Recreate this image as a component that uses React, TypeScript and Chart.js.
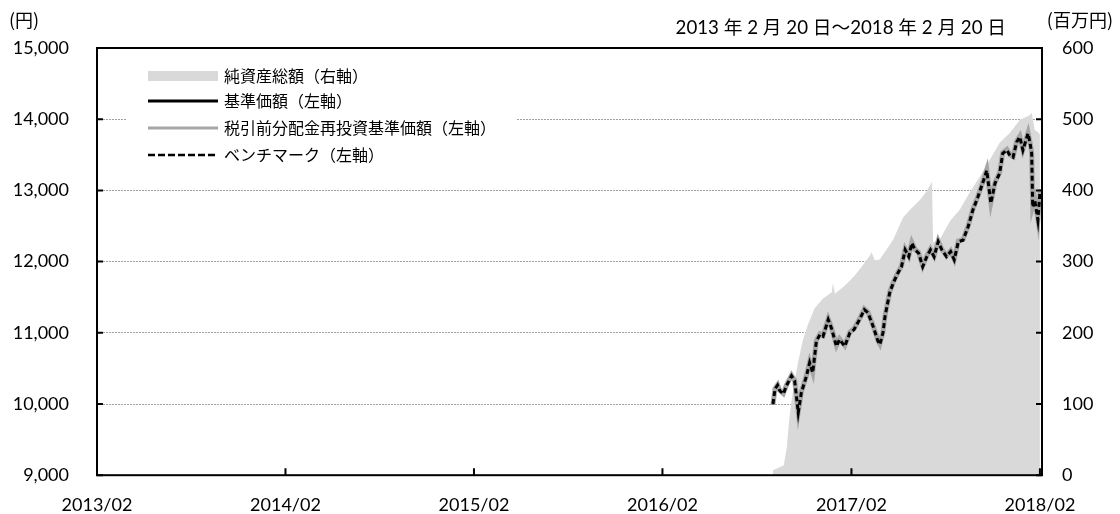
import React, { useEffect, useRef } from "react";
import { Chart, registerables } from "chart.js";

Chart.register(...registerables);

// ---- Axis tick data ----
const xTickDates = ["2013-02-20", "2014-02-20", "2015-02-20", "2016-02-20", "2017-02-20", "2018-02-20"];
const xTickLabels = ["2013/02", "2014/02", "2015/02", "2016/02", "2017/02", "2018/02"];
const xMinDate = "2013-02-20";
const xMaxDate = "2018-02-24";
const leftTicks = [9000, 10000, 11000, 12000, 13000, 14000, 15000];
const rightTicks = [0, 100, 200, 300, 400, 500, 600];

// ---- Series: price lines (円) ----
const lineDates = [
  "2016-09-21", "2016-09-25", "2016-09-30", "2016-10-04", "2016-10-11", "2016-10-17", "2016-10-27",
  "2016-11-02", "2016-11-09", "2016-11-15", "2016-11-25", "2016-12-01", "2016-12-07", "2016-12-14",
  "2016-12-21", "2016-12-27", "2017-01-06", "2017-01-12", "2017-01-22", "2017-01-28", "2017-02-07",
  "2017-02-17", "2017-02-25", "2017-03-08", "2017-03-17", "2017-03-24", "2017-04-03", "2017-04-12",
  "2017-04-16", "2017-04-22", "2017-04-26", "2017-05-05", "2017-05-12", "2017-05-21", "2017-05-28",
  "2017-06-04", "2017-06-11", "2017-06-17", "2017-06-23", "2017-06-30", "2017-07-08", "2017-07-16",
  "2017-07-23", "2017-07-30", "2017-08-07", "2017-08-14", "2017-08-23", "2017-08-31", "2017-09-07",
  "2017-09-15", "2017-09-24", "2017-10-04", "2017-10-13", "2017-10-23", "2017-11-01", "2017-11-09",
  "2017-11-17", "2017-11-25", "2017-12-04", "2017-12-10", "2017-12-18", "2017-12-24", "2017-12-30",
  "2018-01-06", "2018-01-12", "2018-01-18", "2018-01-28", "2018-02-01", "2018-02-04", "2018-02-06",
  "2018-02-10", "2018-02-14", "2018-02-16", "2018-02-19", "2018-02-20",
];
const navValues = [
  9990, 10217, 10270, 10193, 10147, 10263, 10403,
  10333, 9890, 10170, 10403, 10590, 10450, 10893,
  10986, 10962, 11196, 11080, 10823, 10916, 10823,
  11010, 11056, 11200, 11336, 11290, 11100, 10900,
  10845, 11010, 11240, 11570, 11710, 11850, 11940,
  12175, 12080, 12270, 12175, 12130, 11940, 12080,
  12175, 12080, 12290, 12175, 12080, 12150, 12035,
  12290, 12310, 12500, 12730, 12920, 13110, 13290,
  12830, 13110, 13250, 13530, 13575, 13500, 13475,
  13690, 13760, 13575, 13810, 13670, 13530, 12775,
  12875, 12690, 12595, 12875, 13010,
];
const reinvestValues = [
  9990, 10217, 10270, 10193, 10147, 10263, 10403,
  10333, 9890, 10170, 10403, 10590, 10450, 10893,
  10986, 10962, 11196, 11080, 10823, 10916, 10823,
  11010, 11056, 11200, 11336, 11290, 11100, 10900,
  10845, 11010, 11240, 11570, 11710, 11850, 11940,
  12175, 12080, 12270, 12175, 12130, 11940, 12080,
  12175, 12080, 12290, 12175, 12080, 12150, 12035,
  12290, 12310, 12500, 12730, 12920, 13110, 13290,
  12830, 13110, 13250, 13530, 13575, 13500, 13475,
  13690, 13760, 13575, 13810, 13670, 13530, 12775,
  12875, 12690, 12595, 12875, 13010,
];
const benchmarkValues = [
  10000, 10210, 10265, 10190, 10140, 10255, 10395,
  10325, 9880, 10160, 10395, 10580, 10440, 10880,
  10975, 10950, 11185, 11070, 10810, 10905, 10810,
  11000, 11045, 11190, 11325, 11280, 11090, 10890,
  10835, 11000, 11230, 11560, 11700, 11840, 11930,
  12165, 12070, 12260, 12165, 12120, 11930, 12070,
  12165, 12070, 12280, 12165, 12070, 12140, 12025,
  12280, 12300, 12490, 12720, 12910, 13100, 13280,
  12820, 13100, 13240, 13520, 13565, 13490, 13465,
  13680, 13750, 13565, 13800, 13660, 13520, 12765,
  12865, 12680, 12585, 12865, 13000,
];

// ---- Series: net assets (百万円) ----
const assetDates = [
  "2016-09-21", "2016-10-12", "2016-10-18", "2016-10-22", "2016-10-26", "2016-11-01", "2016-11-09",
  "2016-11-18", "2016-11-28", "2016-12-11", "2016-12-27", "2017-01-13", "2017-01-15", "2017-01-19",
  "2017-02-07", "2017-02-26", "2017-03-11", "2017-03-27", "2017-03-31", "2017-04-06", "2017-04-16",
  "2017-05-12", "2017-05-31", "2017-06-14", "2017-07-03", "2017-07-16", "2017-07-26", "2017-07-28",
  "2017-08-10", "2017-08-30", "2017-09-18", "2017-10-07", "2017-10-27", "2017-11-15", "2017-12-04",
  "2017-12-24", "2018-01-12", "2018-02-01", "2018-02-04", "2018-02-10", "2018-02-16", "2018-02-20",
];
const assetValues = [
  7, 14, 40, 75, 100, 128, 160,
  190, 212, 235, 248, 257, 270, 255,
  266, 280, 292, 308, 313, 302, 303,
  331, 362, 373, 387, 399, 412, 327,
  331, 357, 373, 397, 420, 443, 467,
  481, 499, 506, 509, 485, 482, 478,
];

// ---- Text ----
const titleText = "2013 年 2 月 20 日～2018 年 2 月 20 日";
const leftUnit = "(円)";
const rightUnit = "(百万円)";
const legendLabels = [
  "純資産総額（右軸）",
  "基準価額（左軸）",
  "税引前分配金再投資基準価額（左軸）",
  "ベンチマーク（左軸）",
];

const NUM_FONT = "Lato, 'Noto Sans CJK JP', sans-serif";
const JP_FONT = "'Noto Sans CJK JP', Lato, sans-serif";

const ts = (d: string) => {
  const [y, m, dd] = d.split("-").map(Number);
  return Date.UTC(y, m - 1, dd);
};

const toPoints = (dates: string[], vals: number[]) => dates.map((d, i) => ({ x: ts(d), y: vals[i] }));

const decorPlugin = {
  id: "decor",
  beforeDatasetsDraw(chart: any) {
    const ctx = chart.ctx;
    ctx.save();
    // legend backdrop
    ctx.fillStyle = "#ffffff";
    ctx.fillRect(127, 58, 389, 114);
    const rows = [76, 101, 128, 155];
    const x0 = 148;
    const x1 = 218;
    ctx.fillStyle = "#d9d9d9";
    ctx.fillRect(x0, rows[0] - 5, x1 - x0, 10);
    ctx.strokeStyle = "#000000";
    ctx.lineWidth = 3;
    ctx.beginPath();
    ctx.moveTo(x0, rows[1]);
    ctx.lineTo(x1, rows[1]);
    ctx.stroke();
    ctx.strokeStyle = "#a6a6a6";
    ctx.lineWidth = 3;
    ctx.beginPath();
    ctx.moveTo(x0, rows[2]);
    ctx.lineTo(x1, rows[2]);
    ctx.stroke();
    ctx.strokeStyle = "#000000";
    ctx.lineWidth = 2.5;
    ctx.setLineDash([7, 3]);
    ctx.beginPath();
    ctx.moveTo(x0, rows[3]);
    ctx.lineTo(x1, rows[3]);
    ctx.stroke();
    ctx.setLineDash([]);
    ctx.fillStyle = "#000000";
    ctx.font = `16px ${JP_FONT}`;
    ctx.textBaseline = "middle";
    ctx.textAlign = "left";
    legendLabels.forEach((t, i) => ctx.fillText(t, 224, rows[i]));
    ctx.restore();
  },
  afterDatasetsDraw(chart: any) {
    const ctx = chart.ctx;
    const a = chart.chartArea;
    const ys = chart.scales.y;
    const ys2 = chart.scales.y2;
    const xs = chart.scales.x;
    ctx.save();
    ctx.strokeStyle = "#000000";
    ctx.lineWidth = 2;
    ctx.strokeRect(a.left, a.top, a.right - a.left, a.bottom - a.top);
    ctx.beginPath();
    leftTicks.forEach((v) => {
      const y = ys.getPixelForValue(v);
      ctx.moveTo(a.left, y);
      ctx.lineTo(a.left + 6, y);
    });
    rightTicks.forEach((v) => {
      const y = ys2.getPixelForValue(v);
      ctx.moveTo(a.right - 6, y);
      ctx.lineTo(a.right, y);
    });
    xTickDates.forEach((d) => {
      const x = xs.getPixelForValue(ts(d));
      ctx.moveTo(x, a.bottom);
      ctx.lineTo(x, a.bottom - 7);
    });
    ctx.stroke();
    // header texts
    ctx.fillStyle = "#000000";
    ctx.textBaseline = "middle";
    ctx.font = `18px ${JP_FONT}`;
    ctx.textAlign = "left";
    ctx.fillText(leftUnit, 9, 20);
    ctx.textAlign = "right";
    ctx.fillText(rightUnit, 1113, 20);
    ctx.font = `18.7px ${NUM_FONT}`;
    ctx.textAlign = "right";
    ctx.fillText(titleText, 1006, 28);
    ctx.restore();
  },
};

export default function App() {
  const ref = useRef<HTMLCanvasElement | null>(null);
  useEffect(() => {
    if (!ref.current) return;
    const chart = new Chart(ref.current, {
      type: "line",
      data: {
        datasets: [
          {
            label: legendLabels[3],
            data: toPoints(lineDates, benchmarkValues),
            yAxisID: "y",
            borderColor: "#000000",
            borderWidth: 3,
            borderDash: [5, 3],
            pointRadius: 0,
            fill: false,
            tension: 0,
            order: 1,
          },
          {
            label: legendLabels[2],
            data: toPoints(lineDates, reinvestValues),
            yAxisID: "y",
            borderColor: "#a6a6a6",
            borderWidth: 5,
            pointRadius: 0,
            fill: false,
            tension: 0,
            order: 2,
          },
          {
            label: legendLabels[1],
            data: toPoints(lineDates, navValues),
            yAxisID: "y",
            borderColor: "#000000",
            borderWidth: 3,
            pointRadius: 0,
            fill: false,
            tension: 0,
            order: 3,
          },
          {
            label: legendLabels[0],
            data: toPoints(assetDates, assetValues),
            yAxisID: "y2",
            borderColor: "rgba(0,0,0,0)",
            borderWidth: 0,
            backgroundColor: "#d9d9d9",
            pointRadius: 0,
            fill: "origin",
            tension: 0,
            order: 4,
          },
        ],
      },
      options: {
        responsive: false,
        animation: false,
        devicePixelRatio: 1,
        layout: { padding: { top: 48, left: 0, right: 0, bottom: 0 } },
        plugins: { legend: { display: false }, tooltip: { enabled: false } },
        scales: {
          x: {
            type: "linear",
            min: ts(xMinDate),
            max: ts(xMaxDate),
            afterBuildTicks: (scale: any) => {
              scale.ticks = xTickDates.map((d) => ({ value: ts(d) }));
            },
            afterFit: (scale: any) => {
              scale.height = 37;
            },
            grid: { display: false, drawTicks: false },
            border: { display: false },
            ticks: {
              autoSkip: false,
              maxRotation: 0,
              padding: 19,
              color: "#000000",
              font: { family: NUM_FONT, size: 18 },
              callback: (_v: any, i: number) => xTickLabels[i],
            },
          },
          y: {
            position: "left",
            min: 9000,
            max: 15000,
            afterBuildTicks: (scale: any) => {
              scale.ticks = leftTicks.map((v) => ({ value: v }));
            },
            afterFit: (scale: any) => {
              scale.width = 97;
            },
            grid: {
              drawTicks: false,
              color: (c: any) =>
                c.tick && (c.tick.value === 9000 || c.tick.value === 15000) ? "rgba(0,0,0,0)" : "#a0a0a0",
              lineWidth: 1,
            },
            border: { display: false, dash: [2, 1] },
            ticks: {
              padding: 28,
              color: "#000000",
              font: { family: NUM_FONT, size: 18 },
              callback: (v: any) => Number(v).toLocaleString("en-US"),
            },
          },
          y2: {
            position: "right",
            min: 0,
            max: 600,
            afterBuildTicks: (scale: any) => {
              scale.ticks = rightTicks.map((v) => ({ value: v }));
            },
            afterFit: (scale: any) => {
              scale.width = 78;
            },
            grid: { display: false, drawTicks: false },
            border: { display: false },
            ticks: {
              padding: 20,
              color: "#000000",
              font: { family: NUM_FONT, size: 18 },
              callback: (v: any) => String(v),
            },
          },
        },
      },
      plugins: [decorPlugin],
    });
    return () => chart.destroy();
  }, []);
  return (
    <div style={{ position: "fixed", left: 0, top: 0, width: 1120, height: 514, background: "#ffffff" }}>
      <canvas ref={ref} width={1120} height={514} style={{ display: "block" }} />
    </div>
  );
}
